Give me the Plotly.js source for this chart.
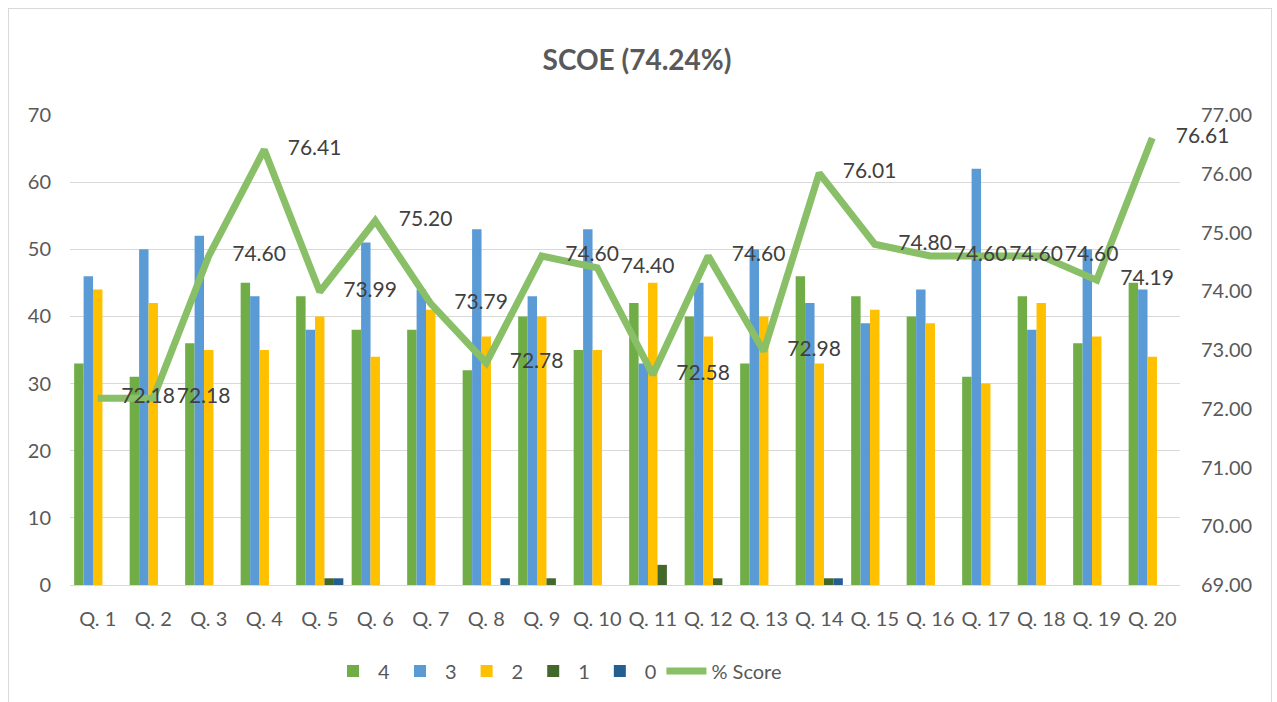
<!DOCTYPE html>
<html>
<head>
<meta charset="utf-8">
<script src="https://cdn.plot.ly/plotly-3.0.1.min.js"></script>
<style>
html,body{margin:0;padding:0;background:#fff;}
#chart{width:1277px;height:702px;}
#frame{position:absolute;left:8px;top:8px;width:1262px;height:700px;border:1px solid #D9D9D9;pointer-events:none;}
</style>
</head>
<body>
<div id="chart"></div>
<div id="frame"></div>
<script>
const categories = ["Q. 1","Q. 2","Q. 3","Q. 4","Q. 5","Q. 6","Q. 7","Q. 8","Q. 9","Q. 10",
  "Q. 11","Q. 12","Q. 13","Q. 14","Q. 15","Q. 16","Q. 17","Q. 18","Q. 19","Q. 20"];
const count4 = [33,31,36,45,43,38,38,32,40,35,42,40,33,46,43,40,31,43,36,45];
const count3 = [46,50,52,43,38,51,44,53,43,53,33,45,50,42,39,44,62,38,50,44];
const count2 = [44,42,35,35,40,34,41,37,40,35,45,37,40,33,41,39,30,42,37,34];
const count1 = [0,0,0,0,1,0,0,0,1,0,3,1,0,1,0,0,0,0,0,0];
const count0 = [0,0,0,0,1,0,0,1,0,0,0,0,0,1,0,0,0,0,0,0];
const pctScore = [72.18,72.18,74.60,76.41,73.99,75.20,73.79,72.78,74.60,74.40,
  72.58,74.60,72.98,76.01,74.80,74.60,74.60,74.60,74.19,76.61];
const seriesNames = ["4","3","2","1","0"];
const seriesColors = ["#70AD47","#5B9BD5","#FFC000","#43682B","#255E91"];
const titleText = "SCOE (74.24%)";

const FONT = "Lato, 'Open Sans', sans-serif";
const counts = [count4,count3,count2,count1,count0];
const traces = counts.map((vals,i)=>({
  type:"bar", name:seriesNames[i], x:categories, y:vals,
  marker:{color:seriesColors[i], line:{width:0}},
  hoverinfo:"x+y+name"
}));
traces.push({
  type:"scatter", mode:"lines+markers+text", name:"% Score",
  x:categories, y:pctScore, yaxis:"y2",
  line:{color:"#88BF67", width:7},
  marker:{size:36, color:"rgba(0,0,0,0)"},
  text:pctScore.map(v=>v.toFixed(2)), textposition:"middle right",
  textfont:{family:FONT, size:21, color:"#404040"},
  cliponaxis:false
});

const layout = {
  width:1277, height:702,
  margin:{l:70, r:97, t:115, b:117},
  paper_bgcolor:"#fff", plot_bgcolor:"#fff",
  font:{family:FONT, color:"#595959", size:20},
  title:{text:"<b>"+titleText+"</b>", x:637/1277, xanchor:"center", xref:"container",
    y:1-60/702, yanchor:"middle", font:{family:FONT, size:28, color:"#595959"}},
  barmode:"group", bargap:0.15, bargroupgap:0,
  showlegend:true,
  legend:{orientation:"h", x:(328-70)/1110, xanchor:"left", y:-0.183, yanchor:"middle",
    font:{family:FONT, size:20, color:"#595959"}, traceorder:"normal", itemwidth:40},
  xaxis:{type:"category", range:[-0.5,19.5], autorange:false, showgrid:false, showline:true,
    linecolor:"#D9D9D9", linewidth:1, tickangle:0,
    ticks:"", ticklabelstandoff:16, tickfont:{family:FONT, size:20, color:"#595959"}},
  yaxis:{range:[0,70], dtick:10, showgrid:true, gridcolor:"#D9D9D9", gridwidth:1,
    zeroline:false, showline:false, ticks:"", ticklabelstandoff:18,
    tickfont:{family:FONT, size:20, color:"#595959"}},
  yaxis2:{range:[69,77], dtick:1, tickformat:".2f", overlaying:"y", side:"right",
    showgrid:false, zeroline:false, showline:false, ticks:"", ticklabelstandoff:20,
    tickfont:{family:FONT, size:20, color:"#595959"}}
};
Plotly.newPlot("chart", traces, layout, {displayModeBar:false, staticPlot:true});
</script>
</body>
</html>
